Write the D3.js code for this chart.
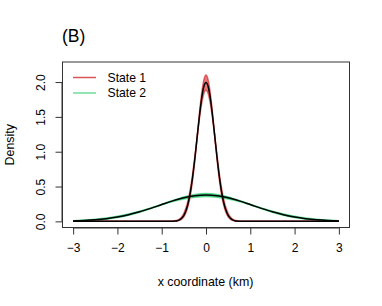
<!DOCTYPE html>
<html>
<head>
<meta charset="utf-8">
<script src="https://cdn.jsdelivr.net/npm/d3@7"></script>
<style>
  body { margin: 0; background: #fff; }
  svg text { font-family: "Liberation Sans", Arial, sans-serif; fill: #000; }
</style>
</head>
<body>
<div id="chart"></div>
<script>
// x grid for the narrow state 1 density (km)
const xs1 = [-3, -1, -0.9, -0.85, -0.8, -0.75, -0.7, -0.65, -0.6, -0.55, -0.5, -0.45, -0.4, -0.35, -0.3, -0.25, -0.2, -0.15, -0.1, -0.05,
  0, 0.05, 0.1, 0.15, 0.2, 0.25, 0.3, 0.35, 0.4, 0.45, 0.5, 0.55, 0.6, 0.65, 0.7, 0.75, 0.8, 0.85, 0.9, 1, 3];
// fitted state 1 density (black)
const state1Fit = [0, 0, 0.0001, 0.0003, 0.0007, 0.0018, 0.0044, 0.0102, 0.0222, 0.0455, 0.0876, 0.159, 0.270, 0.432, 0.648, 0.913, 1.210, 1.506, 1.760, 1.933,
  1.995, 1.933, 1.760, 1.506, 1.210, 0.913, 0.648, 0.432, 0.270, 0.159, 0.0876, 0.0455, 0.0222, 0.0102, 0.0044, 0.0018, 0.0007, 0.0003, 0.0001, 0, 0];
// spread of the state 1 posterior draws (red)
const state1Hi = [0, 0, 0.0002, 0.0006, 0.0015, 0.0036, 0.008, 0.017, 0.034, 0.065, 0.117, 0.198, 0.317, 0.482, 0.691, 0.939, 1.207, 1.538, 1.828, 2.028,
  2.100, 2.028, 1.828, 1.538, 1.207, 0.939, 0.691, 0.482, 0.317, 0.198, 0.117, 0.065, 0.034, 0.017, 0.008, 0.0036, 0.0015, 0.0006, 0.0002, 0, 0];
const state1Lo = [0, 0, 0, 0.0001, 0.0003, 0.0009, 0.0024, 0.006, 0.014, 0.032, 0.066, 0.127, 0.229, 0.385, 0.604, 0.884, 1.206, 1.465, 1.684, 1.830,
  1.882, 1.830, 1.684, 1.465, 1.206, 0.884, 0.604, 0.385, 0.229, 0.127, 0.066, 0.032, 0.014, 0.006, 0.0024, 0.0009, 0.0003, 0.0001, 0, 0, 0];

// x grid for the wide state 2 density (km)
const xs2 = [-3, -2.75, -2.5, -2.25, -2, -1.75, -1.5, -1.25, -1, -0.75, -0.5, -0.25, 0, 0.25, 0.5, 0.75, 1, 1.25, 1.5, 1.75, 2, 2.25, 2.5, 2.75, 3];
const state2Fit = [0.0064, 0.0123, 0.0224, 0.0383, 0.0619, 0.0948, 0.137, 0.187, 0.241, 0.294, 0.339, 0.369, 0.380,
  0.369, 0.339, 0.294, 0.241, 0.187, 0.137, 0.0948, 0.0619, 0.0383, 0.0224, 0.0123, 0.0064];
const state2Hi = [0.010, 0.018, 0.030, 0.047, 0.072, 0.105, 0.145, 0.191, 0.242, 0.301, 0.352, 0.387, 0.399,
  0.387, 0.352, 0.301, 0.242, 0.191, 0.145, 0.105, 0.072, 0.047, 0.030, 0.018, 0.010];
const state2Lo = [0.004, 0.009, 0.018, 0.032, 0.054, 0.086, 0.130, 0.183, 0.239, 0.285, 0.322, 0.347, 0.356,
  0.347, 0.322, 0.285, 0.239, 0.183, 0.130, 0.086, 0.054, 0.032, 0.018, 0.009, 0.004];

const xTicks = [-3, -2, -1, 0, 1, 2, 3];
const yTicks = [0, 0.5, 1, 1.5, 2];
const legendLabels = ["State 1", "State 2"];

const width = 382, height = 306;
const box = {left: 62.5, right: 349.5, top: 62, bottom: 227.5};

const svg = d3.select("#chart").append("svg")
  .attr("width", width)
  .attr("height", height);

const x = d3.scaleLinear().domain([-3.24, 3.24]).range([box.left, box.right]);
const y = d3.scaleLinear().domain([-0.088, 2.288]).range([box.bottom, box.top]);

const redBand = "rgba(210,30,30,0.6)";
const greenBand = "rgba(40,205,110,0.7)";

function drawBand(xs, lo, hi, color) {
  const rows = xs.map((v, i) => ({x: v, lo: lo[i], hi: hi[i]}));
  svg.append("path")
    .datum(rows)
    .attr("fill", color)
    .attr("d", d3.area().curve(d3.curveMonotoneX)
      .x(d => x(d.x)).y0(d => y(d.lo)).y1(d => y(d.hi)));
  [lo, hi].forEach(vals => {
    svg.append("path")
      .datum(xs.map((v, i) => [v, vals[i]]))
      .attr("fill", "none")
      .attr("stroke", color)
      .attr("stroke-width", 1.5)
      .attr("d", d3.line().curve(d3.curveMonotoneX).x(d => x(d[0])).y(d => y(d[1])));
  });
}

function drawFit(xs, vals) {
  svg.append("path")
    .datum(xs.map((v, i) => [v, vals[i]]))
    .attr("fill", "none")
    .attr("stroke", "#000")
    .attr("stroke-width", 1.5)
    .attr("d", d3.line().curve(d3.curveMonotoneX).x(d => x(d[0])).y(d => y(d[1])));
}

drawBand(xs2, state2Lo, state2Hi, greenBand);
drawBand(xs1, state1Lo, state1Hi, redBand);
drawFit(xs2, state2Fit);
drawFit(xs1, state1Fit);

// box
svg.append("rect")
  .attr("x", box.left).attr("y", box.top)
  .attr("width", box.right - box.left).attr("height", box.bottom - box.top)
  .attr("fill", "none").attr("stroke", "#333").attr("stroke-width", 1);

// x axis
const xAxis = svg.append("g")
  .attr("transform", `translate(0,${box.bottom})`)
  .call(d3.axisBottom(x).tickValues(xTicks).tickSize(7).tickPadding(9)
    .tickFormat(d => d < 0 ? "\u2212" + Math.abs(d) : d));
xAxis.select(".domain").attr("d", `M${x(-3)},0.5H${x(3)}`).attr("stroke", "#333");
xAxis.selectAll(".tick line").attr("stroke", "#333");
xAxis.selectAll("text").attr("font-size", 12).attr("font-family", "Liberation Sans, Arial, sans-serif");

// y axis
const yAxis = svg.append("g")
  .attr("transform", `translate(${box.left},0)`)
  .call(d3.axisLeft(y).tickValues(yTicks).tickSize(7).tickFormat(d3.format(".1f")));
yAxis.select(".domain").attr("d", `M-0.5,${y(0)}V${y(2)}`).attr("stroke", "#333");
yAxis.selectAll(".tick line").attr("stroke", "#333");
yAxis.selectAll("text")
  .attr("font-size", 12)
  .attr("font-family", "Liberation Sans, Arial, sans-serif")
  .attr("text-anchor", "middle")
  .attr("dy", 0)
  .attr("x", 0)
  .attr("transform", "translate(-18,0) rotate(-90)");

// labels
svg.append("text")
  .attr("x", (box.left + box.right) / 2 - 0.5).attr("y", 286)
  .attr("text-anchor", "middle").attr("font-size", 12.4)
  .text("x coordinate (km)");

svg.append("text")
  .attr("transform", `translate(14,${(box.top + box.bottom) / 2}) rotate(-90)`)
  .attr("text-anchor", "middle").attr("font-size", 12.4)
  .text("Density");

svg.append("text")
  .attr("x", 62).attr("y", 42)
  .attr("font-size", 17.5)
  .text("(B)");

// legend
const legendColors = ["#d65454", "#6fdc9c"];
legendLabels.forEach((lab, i) => {
  const ly = 77.5 + i * 15.5;
  svg.append("line")
    .attr("x1", 73).attr("x2", 96).attr("y1", ly).attr("y2", ly)
    .attr("stroke", legendColors[i]).attr("stroke-width", 1.5);
  svg.append("text")
    .attr("x", 107.5).attr("y", ly + 4.3)
    .attr("font-size", 12.2)
    .text(lab);
});
</script>
</body>
</html>
